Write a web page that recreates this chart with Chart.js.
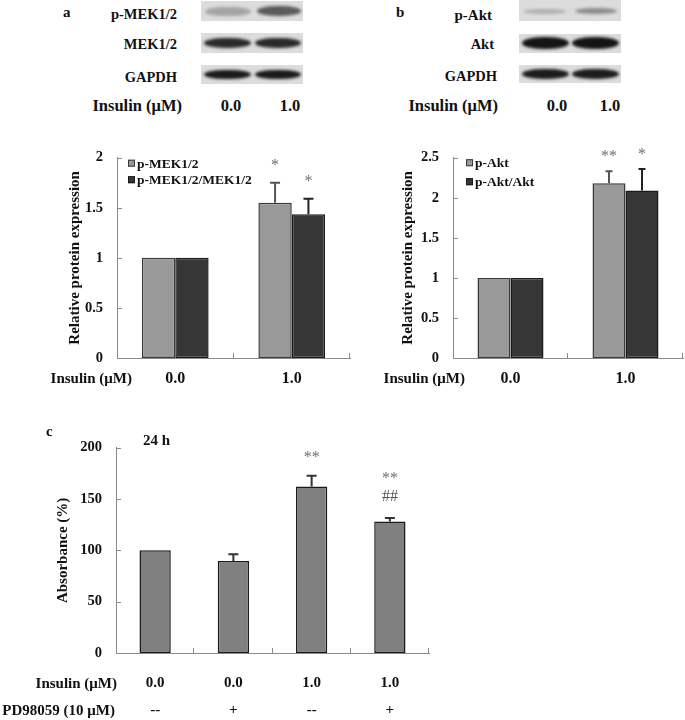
<!DOCTYPE html>
<html>
<head>
<meta charset="utf-8">
<script src="https://cdn.jsdelivr.net/npm/chart.js@4.4.1/dist/chart.umd.min.js"></script>
<style>
body { margin: 0; background: #fff; width: 685px; height: 720px; position: relative; overflow: hidden;
       font-family: "Liberation Serif", "Times New Roman", serif; font-weight: bold; font-size: 15px; color: #111; }
.lbl { position: absolute; white-space: nowrap; line-height: 18px; }
.r { text-align: right; }
.c { transform: translateX(-50%); }
.big { font-size: 16.5px; }
.sm { font-size: 14.5px; }
.blot { position: absolute; background: #dcdcdc; overflow: hidden; }
.band { position: absolute; border-radius: 45% / 50%; filter: blur(1.5px); }
canvas { position: absolute; }
</style>
</head>
<body>
<!-- panel a blots -->
<div class="lbl" style="left:63px; top:3px;">a</div>
<div class="lbl r sm" style="right:508px; top:5px;">p-MEK1/2</div>
<div class="lbl r sm" style="right:508px; top:35px;">MEK1/2</div>
<div class="lbl r sm" style="right:508px; top:68px;">GAPDH</div>
<div class="blot" style="left:201px; top:1px; width:102px; height:20px;">
  <div class="band" style="left:4px; top:6px; width:46px; height:9px; background:#a4a4a4;"></div>
  <div class="band" style="left:56px; top:5px; width:44px; height:10px; background:#5a5a5a;"></div>
</div>
<div class="blot" style="left:201px; top:33px; width:102px; height:20px;">
  <div class="band" style="left:3px; top:5px; width:47px; height:10px; background:#2a2a2a;"></div>
  <div class="band" style="left:54px; top:5px; width:46px; height:10px; background:#2a2a2a;"></div>
</div>
<div class="blot" style="left:201px; top:65px; width:102px; height:19px;">
  <div class="band" style="left:3px; top:5px; width:47px; height:9px; background:#1a1a1a;"></div>
  <div class="band" style="left:54px; top:5px; width:46px; height:9px; background:#1a1a1a;"></div>
</div>
<div class="lbl r big" style="right:503px; top:97px;">Insulin (μM)</div>
<div class="lbl c big" style="left:231px; top:97px;">0.0</div>
<div class="lbl c big" style="left:290px; top:97px;">1.0</div>

<!-- panel b blots -->
<div class="lbl" style="left:396px; top:3px;">b</div>
<div class="lbl r" style="right:193px; top:6px;">p-Akt</div>
<div class="lbl r sm" style="right:191px; top:35px;">Akt</div>
<div class="lbl r sm" style="right:188px; top:67px;">GAPDH</div>
<div class="blot" style="left:519px; top:0px; width:102px; height:21px;">
  <div class="band" style="left:5px; top:9px; width:42px; height:5px; background:#b0b0b0;"></div>
  <div class="band" style="left:56px; top:8px; width:42px; height:6px; background:#8c8c8c;"></div>
</div>
<div class="blot" style="left:519px; top:34px; width:102px; height:19px;">
  <div class="band" style="left:3px; top:3px; width:47px; height:12px; background:#141414;"></div>
  <div class="band" style="left:53px; top:3px; width:47px; height:12px; background:#141414;"></div>
</div>
<div class="blot" style="left:519px; top:65px; width:102px; height:18px;">
  <div class="band" style="left:3px; top:4px; width:47px; height:10px; background:#1c1c1c;"></div>
  <div class="band" style="left:53px; top:4px; width:47px; height:10px; background:#1c1c1c;"></div>
</div>
<div class="lbl r big" style="right:187px; top:97px;">Insulin (μM)</div>
<div class="lbl c big" style="left:557px; top:97px;">0.0</div>
<div class="lbl c big" style="left:610px; top:97px;">1.0</div>

<!-- charts -->
<canvas id="chartA" width="360" height="260" style="left:0px; top:135px;"></canvas>
<canvas id="chartB" width="325" height="260" style="left:360px; top:135px;"></canvas>
<canvas id="chartC" width="450" height="295" style="left:0px; top:425px;"></canvas>
<div class="lbl r" style="right:553px; top:369px;">Insulin (μM)</div>
<div class="lbl r" style="right:220px; top:369px;">Insulin (μM)</div>
<div class="lbl" style="left:46px; top:422px;">c</div>
<div class="lbl" style="left:143px; top:431px;">24 h</div>
<div class="lbl r" style="right:568px; top:674px;">Insulin (μM)</div>
<div class="lbl r" style="right:570px; top:701px;">PD98059 (10 μM)</div>

<script>
// panel a
const doseLabels = ['0.0', '1.0'];
const pMek = [1, 1.55];
const pMekErr = [0, 0.2];
const pMekSig = [[], ['*']];
const pMekRatio = [1, 1.435];
const pMekRatioErr = [0, 0.155];
const pMekRatioSig = [[], ['*']];

// panel b
const pAkt = [1, 2.18];
const pAktErr = [0, 0.15];
const pAktSig = [[], ['**']];
const pAktRatio = [1, 2.09];
const pAktRatioErr = [0, 0.27];
const pAktRatioSig = [[], ['*']];

// panel c
const insulinLabels = ['0.0', '0.0', '1.0', '1.0'];
const pdLabels = ['--', '+', '--', '+'];
const absorbance = [100, 89.7, 162.2, 128];
const absorbanceErr = [0, 6.5, 10.5, 3.5];
const absorbanceSig = [[], [], ['**'], ['**', '##']];

Chart.defaults.font.family = "'Liberation Serif', 'Times New Roman', serif";
Chart.defaults.font.weight = 'bold';
Chart.defaults.font.size = 15;
Chart.defaults.color = '#111';

const axisGray = '#8a8a8a';

// error bars, significance marks, inner ticks, inset legend
const extras = {
    id: 'extras',
    afterDatasetsDraw(chart, args, opts) {
        const ctx = chart.ctx;
        const { left, right, bottom } = chart.chartArea;
        const xs = chart.scales.x;
        const ys = chart.scales.y;
        ctx.save();
        ctx.strokeStyle = axisGray;
        ctx.lineWidth = 1;
        ys.ticks.forEach((t, i) => {
            const y = Math.round(ys.getPixelForTick(i)) + 0.5;
            ctx.beginPath();
            ctx.moveTo(left, y);
            ctx.lineTo(left + 5, y);
            ctx.stroke();
        });
        const n = xs.ticks.length;
        for (let i = 1; i <= n; i++) {
            const x = Math.round(left + (right - left) * i / n) - 0.5;
            ctx.beginPath();
            ctx.moveTo(x, bottom);
            ctx.lineTo(x, bottom - 5);
            ctx.stroke();
        }

        chart.data.datasets.forEach((ds, di) => {
            const meta = chart.getDatasetMeta(di);
            meta.data.forEach((bar, i) => {
                const err = ds.errors[i];
                let yTop = bar.y;
                if (err) {
                    yTop = ys.getPixelForValue(ds.data[i] + err);
                    ctx.strokeStyle = ds.errorColor;
                    ctx.lineWidth = 2;
                    ctx.beginPath();
                    ctx.moveTo(bar.x, bar.y);
                    ctx.lineTo(bar.x, yTop);
                    ctx.moveTo(bar.x - opts.cap / 2, yTop);
                    ctx.lineTo(bar.x + opts.cap / 2, yTop);
                    ctx.stroke();
                }
                const marks = ds.sig[i] || [];
                ctx.font = 'normal 16px "Liberation Serif"';
                ctx.textAlign = 'center';
                ctx.textBaseline = 'alphabetic';
                for (let k = marks.length - 1, step = 0; k >= 0; k--, step++) {
                    const m = marks[k];
                    const center = yTop - opts.gap - step * 21;
                    ctx.fillStyle = m.includes('#') ? '#555' : '#707070';
                    ctx.fillText(m, bar.x, center + (m.includes('*') ? 8 : 5));
                }
            });
        });

        if (opts.legend) {
            const lg = opts.legend;
            ctx.font = 'bold 13.5px "Liberation Serif"';
            ctx.textAlign = 'left';
            ctx.textBaseline = 'middle';
            chart.data.datasets.forEach((ds, di) => {
                const x = left + lg.x;
                const y = chart.chartArea.top + lg.y + di * lg.gap;
                ctx.fillStyle = ds.backgroundColor;
                ctx.fillRect(x, y - 3.5, 7, 7);
                ctx.strokeStyle = ds.borderColor;
                ctx.lineWidth = 1;
                ctx.strokeRect(x + 0.5, y - 3, 6, 6);
                ctx.fillStyle = '#111';
                ctx.fillText(ds.label, x + 9, y + 1);
            });
        }
        ctx.restore();
    }
};

function scalesFor(max, step, title, yWidth, xHeight, xPad, xSize, lineHeight) {
    return {
        x: {
            grid: { display: false, drawTicks: false },
            border: { color: axisGray, width: 1 },
            ticks: { padding: xPad, font: { size: xSize, weight: 'bold', lineHeight: lineHeight } },
            afterFit: (s) => { s.height = xHeight; }
        },
        y: {
            min: 0, max: max,
            grid: { display: false, drawTicks: false },
            border: { color: axisGray, width: 1 },
            ticks: { stepSize: step, padding: 14, font: { size: 14.5, weight: 'bold' },
                     callback: (v) => String(v) },
            title: { display: true, text: title, padding: 0, font: { size: 15, weight: 'bold' }, color: '#111' },
            afterFit: (s) => { s.width = yWidth; }
        }
    };
}

new Chart(document.getElementById('chartA'), {
    type: 'bar',
    data: {
        labels: doseLabels,
        datasets: [
            { label: 'p-MEK1/2', data: pMek, errors: pMekErr, sig: pMekSig, errorColor: '#555',
              backgroundColor: '#999999', borderColor: '#3a3a3a', borderWidth: 1.5, borderSkipped: false,
              barPercentage: 1, categoryPercentage: 0.573 },
            { label: 'p-MEK1/2/MEK1/2', data: pMekRatio, errors: pMekRatioErr, sig: pMekRatioSig, errorColor: '#222',
              backgroundColor: '#363636', borderColor: '#1a1a1a', borderWidth: 1.5, borderSkipped: false,
              barPercentage: 1, categoryPercentage: 0.573 }
        ]
    },
    options: {
        responsive: false,
        animation: false,
        layout: { padding: { top: 13, left: 66, right: 10, bottom: 0 } },
        plugins: { legend: { display: false }, tooltip: { enabled: false },
                   extras: { cap: 10, gap: 21, legend: { x: 11, y: 5.5, gap: 16.5 } } },
        scales: scalesFor(2, 0.5, 'Relative protein expression', 51, 37, 11, 16, 1.2)
    },
    plugins: [extras]
});

new Chart(document.getElementById('chartB'), {
    type: 'bar',
    data: {
        labels: doseLabels,
        datasets: [
            { label: 'p-Akt', data: pAkt, errors: pAktErr, sig: pAktSig, errorColor: '#555',
              backgroundColor: '#999999', borderColor: '#3a3a3a', borderWidth: 1.5, borderSkipped: false,
              barPercentage: 1, categoryPercentage: 0.574 },
            { label: 'p-Akt/Akt', data: pAktRatio, errors: pAktRatioErr, sig: pAktRatioSig, errorColor: '#222',
              backgroundColor: '#363636', borderColor: '#1a1a1a', borderWidth: 1.5, borderSkipped: false,
              barPercentage: 1, categoryPercentage: 0.574 }
        ]
    },
    options: {
        responsive: false,
        animation: false,
        layout: { padding: { top: 13, left: 39, right: 2, bottom: 0 } },
        plugins: { legend: { display: false }, tooltip: { enabled: false },
                   extras: { cap: 7, gap: 18, legend: { x: 13, y: 5, gap: 19 } } },
        scales: scalesFor(2.5, 0.5, 'Relative protein expression', 54, 37, 11, 16, 1.2)
    },
    plugins: [extras]
});

new Chart(document.getElementById('chartC'), {
    type: 'bar',
    data: {
        labels: insulinLabels.map((v, i) => [v, pdLabels[i]]),
        datasets: [
            { label: 'Absorbance', data: absorbance, errors: absorbanceErr, sig: absorbanceSig, errorColor: '#333',
              backgroundColor: '#808080', borderColor: '#1a1a1a', borderWidth: 1.5, borderSkipped: false,
              barPercentage: 1, categoryPercentage: 0.4 }
        ]
    },
    options: {
        responsive: false,
        animation: false,
        layout: { padding: { top: 13, left: 54, right: 21, bottom: 0 } },
        plugins: { legend: { display: false }, tooltip: { enabled: false },
                   extras: { cap: 10, gap: 22 } },
        scales: scalesFor(200, 50, 'Absorbance (%)', 62, 67, 16.5, 15, 1.8)
    },
    plugins: [extras]
});
</script>
</body>
</html>
